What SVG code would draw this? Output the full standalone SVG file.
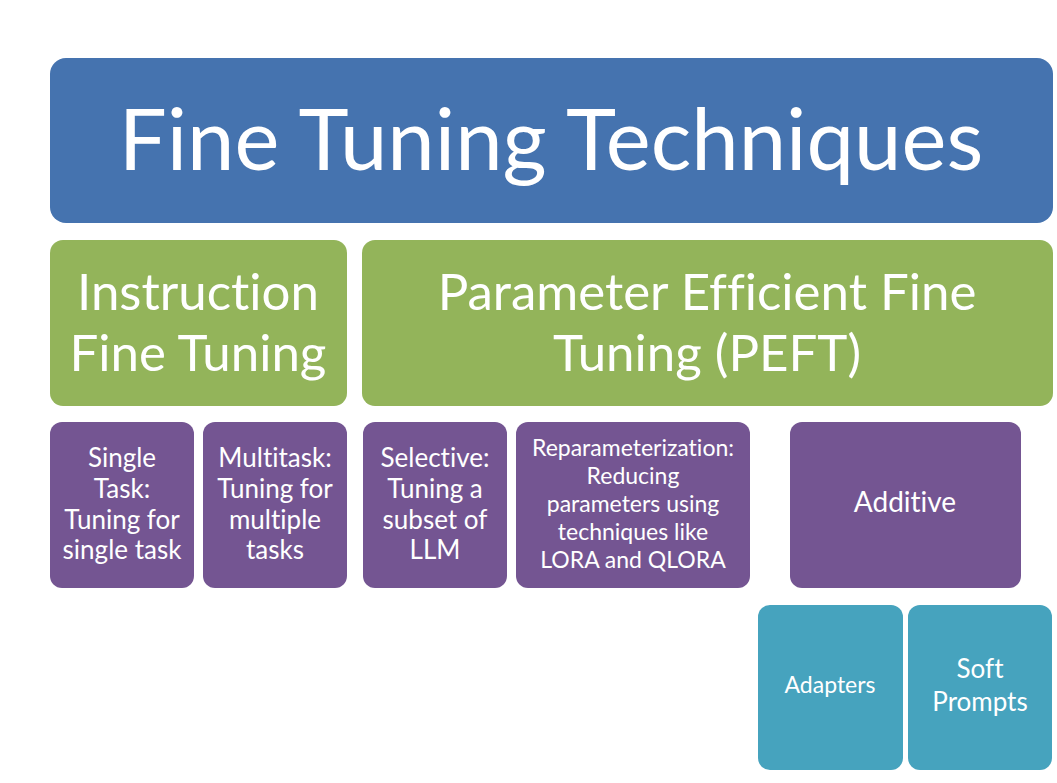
<svg xmlns="http://www.w3.org/2000/svg" width="1057" height="783" viewBox="0 0 1057 783">
<style>
text{font-family:Lato,"Open Sans","DejaVu Sans",sans-serif;fill:#fff;text-anchor:middle;font-variant-ligatures:none;font-feature-settings:"liga" 0}
.blue{fill:#4573AF}
.green{fill:#93B45A}
.purple{fill:#745592}
.teal{fill:#46A3BE}
.t1{font-size:85px}
.t2{font-size:51px}
.t3{font-size:26px}
.t4{font-size:23px}
.t5{font-size:26px}
.t6{font-size:28px}
</style>
<rect width="1057" height="783" fill="#fff"/>
<g id="title">
<rect class="blue" x="50" y="58" width="1003" height="165" rx="16"/>
<text class="t1" x="551" y="170">Fine Tuning Techniques</text>
</g>
<g id="instruction">
<rect class="green" x="50" y="240" width="297" height="166" rx="13"/>
<text class="t2" x="198" y="310">Instruction</text>
<text class="t2" x="198" y="371">Fine Tuning</text>
</g>
<g id="peft">
<rect class="green" x="362" y="240" width="691" height="166" rx="13"/>
<text class="t2" x="707" y="310">Parameter Efficient Fine</text>
<text class="t2" x="707" y="371">Tuning (PEFT)</text>
</g>
<g id="single">
<rect class="purple" x="50" y="422" width="144" height="166" rx="12"/>
<text class="t3" x="122" y="467">Single</text>
<text class="t3" x="122" y="498">Task:</text>
<text class="t3" x="122" y="529">Tuning for</text>
<text class="t3" x="122" y="559">single task</text>
</g>
<g id="multitask">
<rect class="purple" x="203" y="422" width="144" height="166" rx="12"/>
<text class="t3" x="275" y="467">Multitask:</text>
<text class="t3" x="275" y="498">Tuning for</text>
<text class="t3" x="275" y="529">multiple</text>
<text class="t3" x="275" y="559">tasks</text>
</g>
<g id="selective">
<rect class="purple" x="363" y="422" width="144" height="166" rx="12"/>
<text class="t3" x="435" y="467">Selective:</text>
<text class="t3" x="435" y="498">Tuning a</text>
<text class="t3" x="435" y="529">subset of</text>
<text class="t3" x="435" y="559">LLM</text>
</g>
<g id="reparameterization">
<rect class="purple" x="516" y="422" width="234" height="166" rx="12"/>
<text class="t4" x="633" y="456">Reparameterization:</text>
<text class="t4" x="633" y="484">Reducing</text>
<text class="t4" x="633" y="512">parameters using</text>
<text class="t4" x="633" y="540">techniques like</text>
<text class="t4" x="633" y="568">LORA and QLORA</text>
</g>
<g id="additive">
<rect class="purple" x="790" y="422" width="231" height="166" rx="12"/>
<text class="t6" x="905" y="512">Additive</text>
</g>
<g id="adapters">
<rect class="teal" x="758" y="605" width="145" height="165" rx="12"/>
<text class="t4" x="830" y="693">Adapters</text>
</g>
<g id="softprompts">
<rect class="teal" x="908" y="605" width="144" height="165" rx="12"/>
<text class="t5" x="980" y="678">Soft</text>
<text class="t5" x="980" y="711">Prompts</text>
</g>
<g id="connectors"></g>
</svg>
